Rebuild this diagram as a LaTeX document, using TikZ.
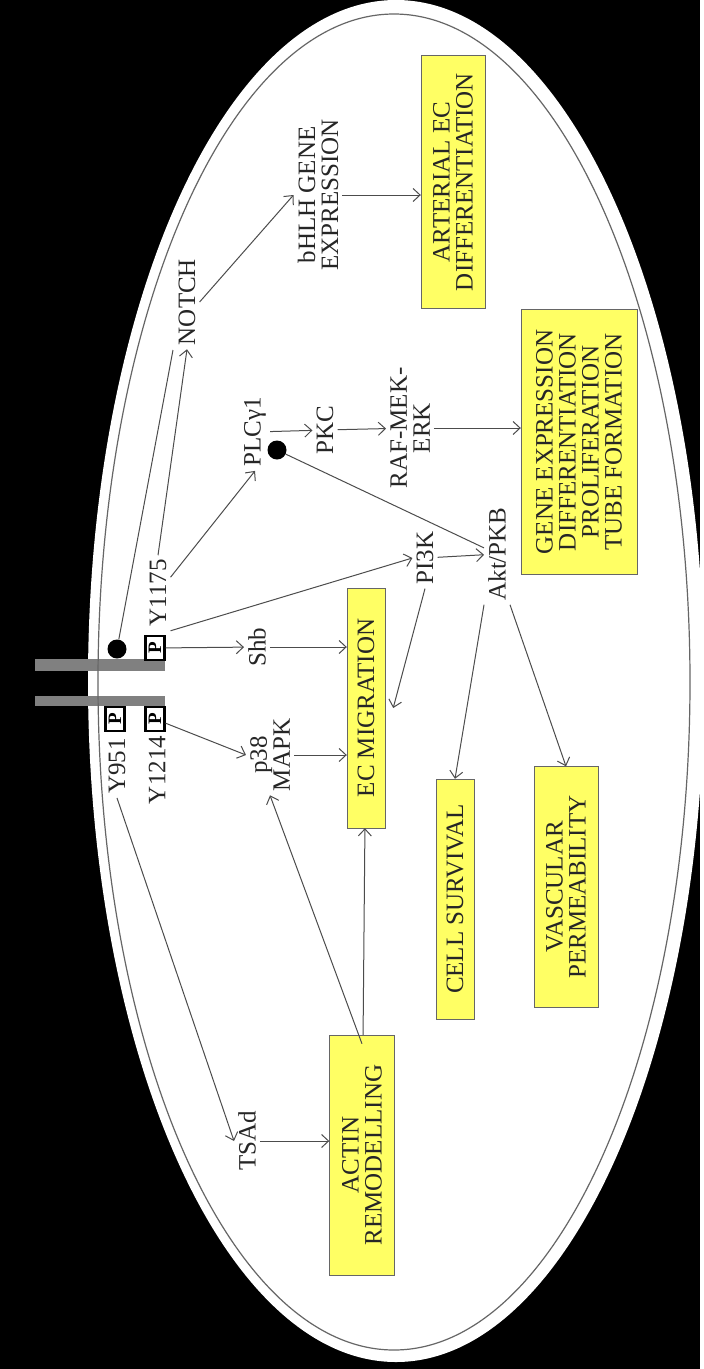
\documentclass[tikz,border=0pt]{standalone}
\usepackage{fontspec}
\setmainfont{Liberation Serif}
\usetikzlibrary{arrows.meta}
\definecolor{boxyellow}{RGB}{255,255,100}

\begin{document}
\begin{tikzpicture}[x=1pt,y=-1pt,
  lbl/.style={rotate=90,align=center,text=black!85,font=\fontsize{25}{23}\selectfont,inner sep=4pt},
  outcome/.style={rotate=90,draw=black!60,fill=boxyellow,align=center,text=black!85,font=\fontsize{25}{23}\selectfont,inner sep=2pt},
  pbox/.style={rotate=90,draw=black,line width=2.2pt,fill=white,minimum width=24pt,minimum height=19pt,inner sep=0pt,font=\fontsize{19}{19}\selectfont\bfseries},
  blob/.style={circle,fill=black,minimum size=19pt,inner sep=0pt},
  arr/.style={-{Straight Barb[length=7pt,width=13pt]},draw=black!70,line width=1pt},
  link/.style={draw=black!70,line width=1pt}
]
% cell
\fill[black] (0,0) rectangle (700,1369);
\fill[white] (396,681) ellipse [x radius=308pt, y radius=681pt];
\fill[black!50] (35,659) rectangle (165,671);
\fill[black!50] (35,696) rectangle (165,706);
\draw[black!60,line width=1.2pt] (394,682) ellipse [x radius=296pt, y radius=668pt];

% receptor sites
\node[pbox] (pb1) at (155,648) {P};
\node[pbox] (pb2) at (115,719) {P};
\node[pbox] (pb3) at (155,719) {P};
\node[blob] (dot1) at (117,649) {};
\node[lbl] (y1175) at (158,593) {Y1175};
\node[lbl] (y951) at (117,766) {Y951};
\node[lbl] (y1214) at (157,770) {Y1214};

% signalling
\node[lbl] (notch) at (187,302) {NOTCH};
\node[lbl] (bhlh) at (318,195) {bHLH GENE\\EXPRESSION};
\node[lbl] (plc) at (255,432) {PLCγ1};
\node[blob] (dot2) at (277,450) {};
\node[lbl] (pkc) at (325,430) {PKC};
\node[lbl] (raf) at (410,428) {RAF-MEK-\\ERK};
\node[lbl] (pi3k) at (425,558) {PI3K};
\node[lbl] (akt) at (497,554) {Akt/PKB};
\node[lbl] (shb) at (257,647) {Shb};
\node[lbl] (p38) at (270,755) {p38\\MAPK};
\node[lbl] (tsad) at (247,1141) {TSAd};

% outcomes
\node[outcome,minimum width=253pt,minimum height=64pt] (arterial) at (453,182) {ARTERIAL EC\\DIFFERENTIATION};
\node[outcome,minimum width=265pt,minimum height=116pt] (gene) at (579,442) {GENE EXPRESSION\\DIFFERENTIATION\\PROLIFERATION\\TUBE FORMATION};
\node[outcome,minimum width=240pt,minimum height=38pt] (ecmig) at (366,708) {EC MIGRATION};
\node[outcome,minimum width=240pt,minimum height=65pt] (actin) at (362,1155) {ACTIN\\REMODELLING};
\node[outcome,minimum width=240pt,minimum height=38pt] (survival) at (455,899) {CELL SURVIVAL};
\node[outcome,minimum width=241pt,minimum height=64pt] (vascular) at (566,887) {VASCULAR\\PERMEABILITY};

\coordinate (notchfoot) at (173,350);

\draw[link] (dot1) -- (notchfoot);
\draw[arr] (y1175.east) -- (notch.west);
\draw[arr] (notch.south) -- (bhlh.north);
\draw[arr] (bhlh.south) -- (bhlh.south -| arterial.north);
\draw[arr] (y1175) -- (plc.west);
\draw[arr] (y1175.south west) -- (pi3k.north);
\draw[arr] (plc) -- (pkc);
\draw[arr] (pkc) -- (raf);
\draw[arr] (raf) -- (raf -| gene.north);
\draw[link] (dot2) -- (akt);
\draw[arr] (pi3k) -- (akt);
\draw[arr] (pi3k.west) -- ([xshift=8pt]ecmig.south);
\draw[arr] (akt.north west) -- (survival.east);
\draw[arr] (akt.south west) -- (vascular.east);
\draw[arr] (pb1) -- (shb);
\draw[arr] (shb) -- (shb -| ecmig.north);
\draw[arr] (pb3) -- (p38.north);
\draw[arr] (p38) -- (p38 -| ecmig.north);
\draw[arr] (y951.west) -- (tsad.north);
\draw[arr] (tsad) -- (tsad -| actin.north);
\draw[arr] ([yshift=-9pt]actin.east) -- (p38.west);
\draw[arr] (actin) -- (ecmig);
\end{tikzpicture}
\end{document}
